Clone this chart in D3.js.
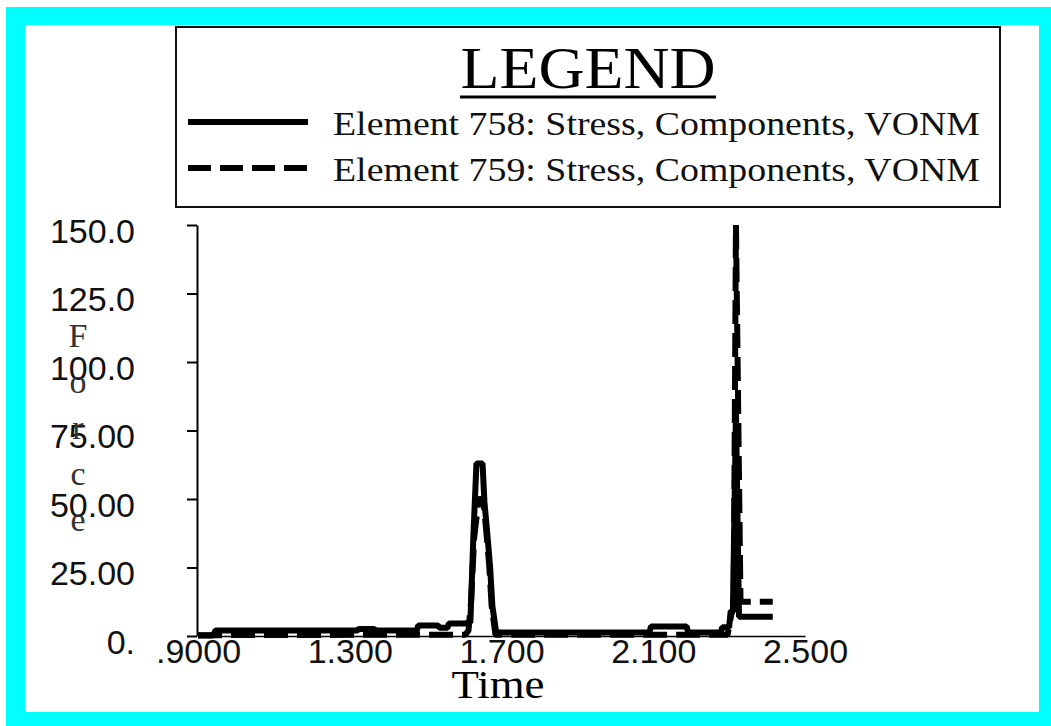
<!DOCTYPE html>
<html>
<head>
<meta charset="utf-8">
<script src="https://cdn.jsdelivr.net/npm/d3@7"></script>
<style>
  html, body { margin: 0; padding: 0; background: #fff; }
  svg { display: block; }
</style>
</head>
<body>
<div id="chart"></div>
<script>
// Element 758 (solid) - time / stress
const time758 = [0.900, 0.940, 0.946, 1.320, 1.323, 1.365, 1.368, 1.477, 1.480, 1.533, 1.537, 1.558,
  1.561, 1.604, 1.618, 1.626, 1.634, 1.650, 1.655, 1.664, 1.670, 1.676, 1.686, 2.090, 2.094, 2.188,
  2.192, 2.278, 2.282, 2.300, 2.304, 2.310, 2.318, 2.326, 2.334, 2.415];
const stress758 = [0.2, 0.2, 2.0, 2.0, 2.6, 2.6, 2.0, 2.0, 3.8, 3.8, 3.0, 3.0,
  4.6, 4.6, 5.0, 37.0, 63.0, 63.0, 49.0, 35.0, 25.0, 11.0, 1.3, 1.3, 3.5, 3.5,
  1.3, 1.3, 3.2, 3.2, 9.0, 9.0, 82.0, 7.0, 7.0, 7.0];

// Element 759 (dashed) - time / stress
const time759 = [0.900, 1.605, 1.613, 1.620, 1.628, 1.640, 1.652, 1.662, 1.668, 1.674, 1.684, 2.080,
  2.296, 2.306, 2.312, 2.318, 2.330, 2.415];
const stress759 = [0.3, 0.5, 2.0, 13.0, 36.0, 50.0, 50.0, 35.0, 25.0, 11.0, 0.5, 0.5,
  0.5, 8.0, 10.0, 150.0, 12.5, 12.5];

const seriesNames = ["Element 758: Stress, Components, VONM", "Element 759: Stress, Components, VONM"];
const seriesDash = [null, "24,9"];

const yTicks = [0, 25, 50, 75, 100, 125, 150];
const yTickLabels = ["0.", "25.00", "50.00", "75.00", "100.0", "125.0", "150.0"];
const xTicks = [0.9, 1.3, 1.7, 2.1, 2.5];
const xTickLabels = [".9000", "1.300", "1.700", "2.100", "2.500"];

const legendTitle = "LEGEND";
const xTitle = "Time";
const yTitle = "Force";

const width = 1051, height = 726;

const svg = d3.select("#chart").append("svg")
    .attr("width", width)
    .attr("height", height);

// cyan frame
svg.append("rect")
    .attr("x", 6).attr("y", 7)
    .attr("width", width - 6).attr("height", height - 7)
    .attr("fill", "#00ffff");
svg.append("rect")
    .attr("x", 25).attr("y", 25)
    .attr("width", 1039 - 25).attr("height", 712 - 25)
    .attr("fill", "#ffffff");

const x = d3.scaleLinear().domain([0.9, 2.5]).range([198, 805]);
const y = d3.scaleLinear().domain([0, 150]).range([636, 225]);

// y axis
const yAxis = svg.append("g")
    .attr("transform", "translate(197,0)")
    .call(d3.axisLeft(y)
        .tickValues(yTicks)
        .tickSize(10)
        .tickSizeOuter(0)
        .tickFormat((d, i) => yTickLabels[i]));
yAxis.select(".domain").attr("stroke", "#000").attr("stroke-width", 2);
yAxis.selectAll(".tick line").attr("stroke", "#000").attr("stroke-width", 2);
yAxis.selectAll(".tick text")
    .attr("x", -62)
    .attr("dy", "0.5em")
    .style("font-family", "'Liberation Sans', Arial, sans-serif")
    .style("font-size", "34px")
    .attr("fill", "#111");

// x axis
const xAxis = svg.append("g")
    .attr("transform", "translate(0,636)")
    .call(d3.axisBottom(x)
        .tickValues(xTicks)
        .tickSize(0)
        .tickSizeOuter(0)
        .tickFormat((d, i) => xTickLabels[i]));
xAxis.select(".domain").attr("stroke", "#000").attr("stroke-width", 1.5);
xAxis.selectAll(".tick text")
    .attr("y", 27)
    .attr("dy", 0)
    .style("font-family", "'Liberation Sans', Arial, sans-serif")
    .style("font-size", "34px")
    .attr("fill", "#111");

// axis titles
svg.append("text")
    .attr("x", 498).attr("y", 698)
    .attr("text-anchor", "middle")
    .style("font-family", "'Liberation Serif', 'Times New Roman', serif")
    .style("font-size", "40px")
    .attr("textLength", 93)
    .attr("lengthAdjust", "spacingAndGlyphs")
    .text(xTitle);

// stacked y title letters (they sit over the tick labels, as in the original)
svg.append("g").selectAll("text")
    .data(yTitle.split(""))
    .join("text")
    .attr("x", 78)
    .attr("y", (d, i) => 347 + i * 46)
    .attr("text-anchor", "middle")
    .style("font-family", "'Liberation Serif', 'Times New Roman', serif")
    .style("font-size", "34px")
    .attr("fill", "#333")
    .text(d => d);

// data lines
const line = d3.line()
    .x(d => x(d[0]))
    .y(d => y(d[1]));

const series = [
    d3.zip(time758, stress758),
    d3.zip(time759, stress759)
];

series.forEach((s, i) => {
    svg.append("path")
        .datum(s)
        .attr("d", line)
        .attr("fill", "none")
        .attr("stroke", "#000")
        .attr("stroke-width", 6)
        .attr("stroke-linejoin", "bevel")
        .attr("stroke-dasharray", seriesDash[i]);
});

// legend
const legend = svg.append("g");
legend.append("rect")
    .attr("x", 176).attr("y", 27)
    .attr("width", 1000 - 176).attr("height", 207 - 27)
    .attr("fill", "#fff")
    .attr("stroke", "#111")
    .attr("stroke-width", 2);

legend.append("text")
    .attr("x", 588).attr("y", 88)
    .attr("text-anchor", "middle")
    .style("font-family", "'Liberation Serif', 'Times New Roman', serif")
    .style("font-size", "60px")
    .attr("textLength", 255)
    .attr("lengthAdjust", "spacingAndGlyphs")
    .text(legendTitle);
legend.append("line")
    .attr("x1", 460).attr("x2", 716)
    .attr("y1", 97).attr("y2", 97)
    .attr("stroke", "#000")
    .attr("stroke-width", 3);

seriesNames.forEach((name, i) => {
    const ly = 122 + i * 46;
    legend.append("line")
        .attr("x1", 188).attr("x2", 308)
        .attr("y1", ly).attr("y2", ly)
        .attr("stroke", "#000")
        .attr("stroke-width", 6)
        .attr("stroke-dasharray", i === 1 ? "23,9" : null);
    legend.append("text")
        .attr("x", 333).attr("y", ly + 13)
        .style("font-family", "'Liberation Serif', 'Times New Roman', serif")
        .style("font-size", "34px")
        .attr("textLength", 647)
        .attr("lengthAdjust", "spacingAndGlyphs")
        .attr("fill", "#111")
        .text(name);
});
</script>
</body>
</html>
